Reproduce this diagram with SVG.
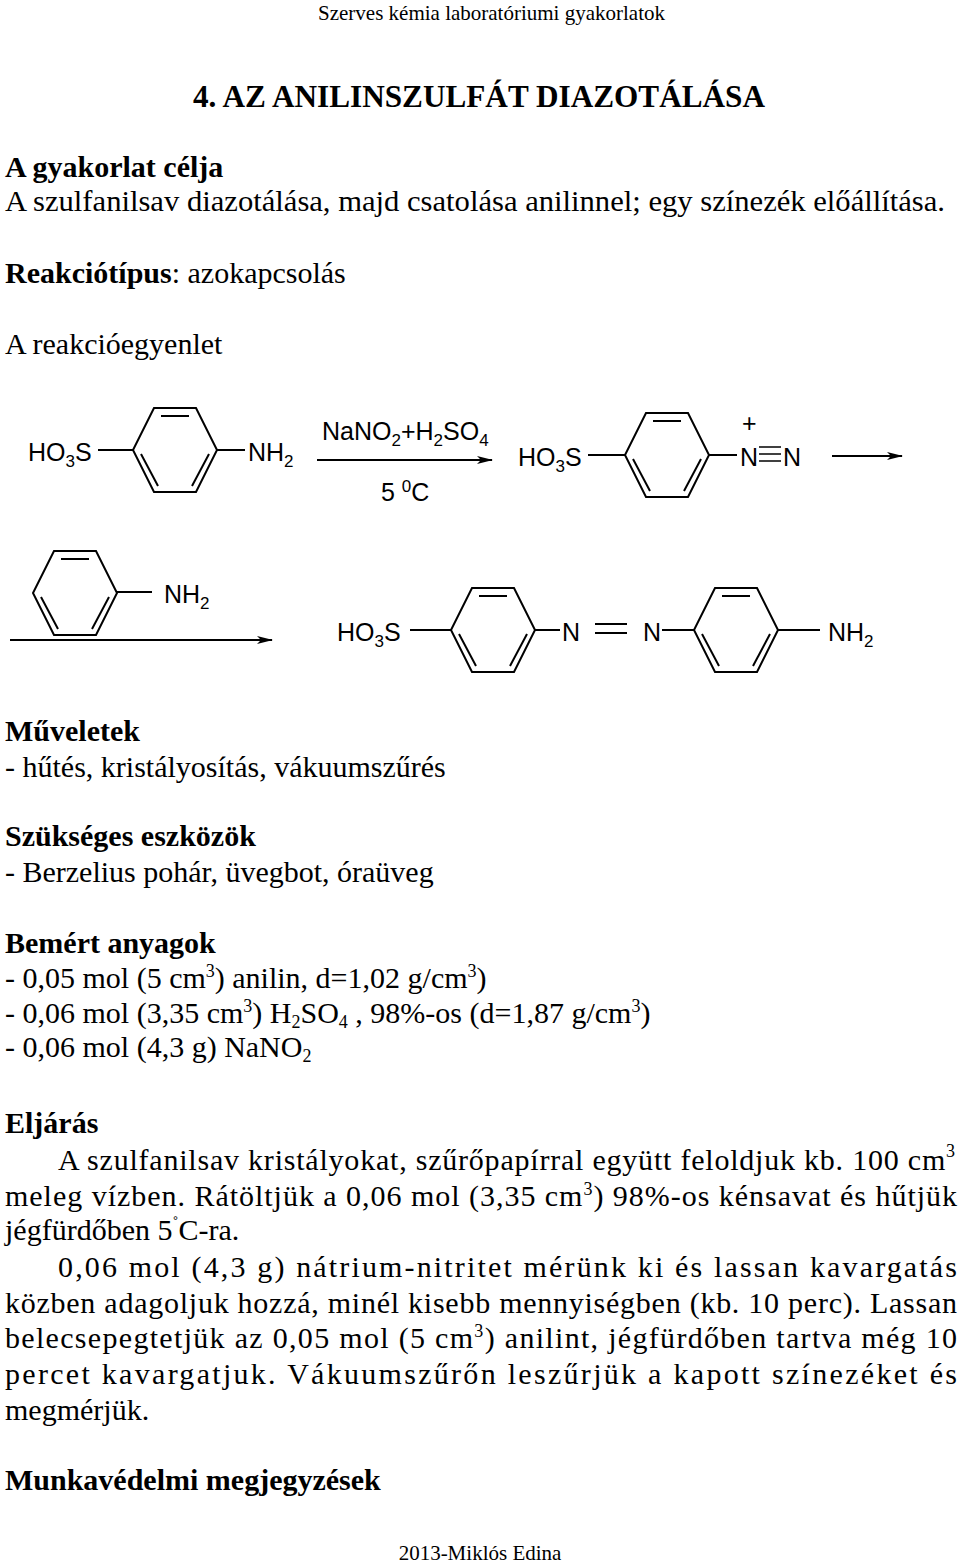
<svg xmlns="http://www.w3.org/2000/svg" width="960" height="1563" viewBox="0 0 960 1563">
<style>
.t{font-family:"Liberation Serif",serif;font-size:30px;fill:#000}
.b{font-weight:bold}
.c{font-family:"Liberation Sans",Arial,sans-serif;font-size:25px;fill:#000}
.s{font-size:17px}
.ss{font-size:18px}
.ln{stroke:#000;stroke-width:2;fill:none}
</style>
<defs>
<marker id="ah" markerWidth="16" markerHeight="8" refX="15" refY="4" orient="auto" markerUnits="userSpaceOnUse"><path d="M0,0 L16,4 L0,8 L4,4 Z" fill="#000"/></marker>
<g id="ring">
<polygon class="ln" points="-21,-42 21,-42 42,0 21,42 -21,42 -42,0"/>
<line class="ln" x1="-14" y1="-34" x2="14" y2="-34"/>
<line class="ln" x1="34" y1="4" x2="17" y2="36"/>
<line class="ln" x1="-34" y1="4" x2="-17" y2="36"/>
</g>
</defs>
<text class="t" x="665" y="20" text-anchor="end" style="font-size:21px">Szerves kémia laboratóriumi gyakorlatok</text>
<text class="t b" x="193" y="107" textLength="572" lengthAdjust="spacingAndGlyphs" style="font-size:31px">4. AZ ANILINSZULFÁT DIAZOTÁLÁSA</text>
<text class="t b" x="5" y="177">A gyakorlat célja</text>
<text class="t" x="5" y="211" textLength="940" lengthAdjust="spacingAndGlyphs">A szulfanilsav diazotálása, majd csatolása anilinnel; egy színezék előállítása.</text>
<text class="t" x="5" y="283"><tspan class="b">Reakciótípus</tspan>: azokapcsolás</text>
<text class="t" x="5" y="354">A reakcióegyenlet</text>

<g id="sulfanilic">
<text class="c" x="28" y="461">HO<tspan class="s" dy="6">3</tspan><tspan dy="-6">S</tspan></text>
<line class="ln" x1="98" y1="450" x2="133" y2="450"/>
<use href="#ring" x="175" y="450"/>
<line class="ln" x1="217" y1="450" x2="245" y2="450"/>
<text class="c" x="248" y="461">NH<tspan class="s" dy="6">2</tspan></text>
</g>
<g id="diazonium">
<text class="c" x="518" y="466">HO<tspan class="s" dy="6">3</tspan><tspan dy="-6">S</tspan></text>
<line class="ln" x1="588" y1="455" x2="625" y2="455"/>
<use href="#ring" x="667" y="455"/>
<line class="ln" x1="709" y1="455" x2="737" y2="455"/>
<text class="c" x="740" y="466">N</text>
<text class="c" x="783" y="466">N</text>
<text class="c" x="742" y="432">+</text>
<line class="ln" x1="759" y1="447" x2="781" y2="447" style="stroke-width:1.5"/>
<line class="ln" x1="759" y1="454" x2="781" y2="454" style="stroke-width:1.5"/>
<line class="ln" x1="759" y1="461" x2="781" y2="461" style="stroke-width:1.5"/>
</g>
<g id="aniline">
<use href="#ring" x="75" y="593"/>
<line class="ln" x1="117" y1="592" x2="152" y2="592"/>
<text class="c" x="164" y="603">NH<tspan class="s" dy="6">2</tspan></text>
</g>
<g id="product">
<text class="c" x="337" y="641">HO<tspan class="s" dy="6">3</tspan><tspan dy="-6">S</tspan></text>
<line class="ln" x1="410" y1="630" x2="451" y2="630"/>
<use href="#ring" x="493" y="630"/>
<line class="ln" x1="535" y1="630" x2="560" y2="630"/>
<text class="c" x="562" y="641">N</text>
<line class="ln" x1="595" y1="624" x2="627" y2="624"/>
<line class="ln" x1="595" y1="633" x2="627" y2="633"/>
<text class="c" x="643" y="641">N</text>
<line class="ln" x1="662" y1="630" x2="694" y2="630"/>
<use href="#ring" x="736" y="630"/>
<line class="ln" x1="778" y1="630" x2="820" y2="630"/>
<text class="c" x="828" y="641">NH<tspan class="s" dy="6">2</tspan></text>
</g>
<g id="connectors">
<line class="ln" x1="317" y1="460" x2="492" y2="460" marker-end="url(#ah)"/>
<line class="ln" x1="832" y1="456" x2="902" y2="456" marker-end="url(#ah)"/>
<line class="ln" x1="10" y1="640" x2="272" y2="640" marker-end="url(#ah)"/>
</g>
<text class="c" x="322" y="440">NaNO<tspan class="s" dy="6">2</tspan><tspan dy="-6">+H</tspan><tspan class="s" dy="6">2</tspan><tspan dy="-6">SO</tspan><tspan class="s" dy="6">4</tspan></text>
<text class="c" x="381" y="501">5 <tspan class="s" dy="-9">0</tspan><tspan dy="9">C</tspan></text>

<text class="t b" x="5" y="741">Műveletek</text>
<text class="t" x="5" y="777">- hűtés, kristályosítás, vákuumszűrés</text>
<text class="t b" x="5" y="846">Szükséges eszközök</text>
<text class="t" x="5" y="882">- Berzelius pohár, üvegbot, óraüveg</text>
<text class="t b" x="5" y="953">Bemért anyagok</text>
<text class="t" x="5" y="988">- 0,05 mol (5 cm<tspan class="ss" dy="-11">3</tspan><tspan dy="11">) anilin, d=1,02 g/cm</tspan><tspan class="ss" dy="-11">3</tspan><tspan dy="11">)</tspan></text>
<text class="t" x="5" y="1023">- 0,06 mol (3,35 cm<tspan class="ss" dy="-11">3</tspan><tspan dy="11">) H</tspan><tspan class="ss" dy="5">2</tspan><tspan dy="-5">SO</tspan><tspan class="ss" dy="5">4</tspan><tspan dy="-5"> , 98%-os (d=1,87 g/cm</tspan><tspan class="ss" dy="-11">3</tspan><tspan dy="11">)</tspan></text>
<text class="t" x="5" y="1057">- 0,06 mol (4,3 g) NaNO<tspan class="ss" dy="5">2</tspan></text>
<text class="t b" x="5" y="1133">Eljárás</text>
<text class="t" x="58" y="1170" textLength="897" lengthAdjust="spacing">A szulfanilsav kristályokat, szűrőpapírral együtt feloldjuk kb. 100 cm<tspan class="ss" dy="-13">3</tspan></text>
<text class="t" x="5" y="1206" textLength="952" lengthAdjust="spacing">meleg vízben. Rátöltjük a 0,06 mol (3,35 cm<tspan class="ss" dy="-11">3</tspan><tspan dy="11">) 98%-os kénsavat és hűtjük</tspan></text>
<text class="t" x="5" y="1240">jégfürdőben 5<tspan class="ss" dy="-10">˚</tspan><tspan dy="10">C-ra.</tspan></text>
<text class="t" x="58" y="1277" textLength="899" lengthAdjust="spacing">0,06 mol (4,3 g) nátrium-nitritet mérünk ki és lassan kavargatás</text>
<text class="t" x="5" y="1313" textLength="952" lengthAdjust="spacing">közben adagoljuk hozzá, minél kisebb mennyiségben (kb. 10 perc). Lassan</text>
<text class="t" x="5" y="1348" textLength="952" lengthAdjust="spacing">belecsepegtetjük az 0,05 mol (5 cm<tspan class="ss" dy="-11">3</tspan><tspan dy="11">) anilint, jégfürdőben tartva még 10</tspan></text>
<text class="t" x="5" y="1384" textLength="952" lengthAdjust="spacing">percet kavargatjuk. Vákuumszűrőn leszűrjük a kapott színezéket és</text>
<text class="t" x="5" y="1420">megmérjük.</text>
<text class="t b" x="5" y="1490">Munkavédelmi megjegyzések</text>
<text class="t" x="480" y="1560" text-anchor="middle" style="font-size:21px">2013-Miklós Edina</text>
</svg>
